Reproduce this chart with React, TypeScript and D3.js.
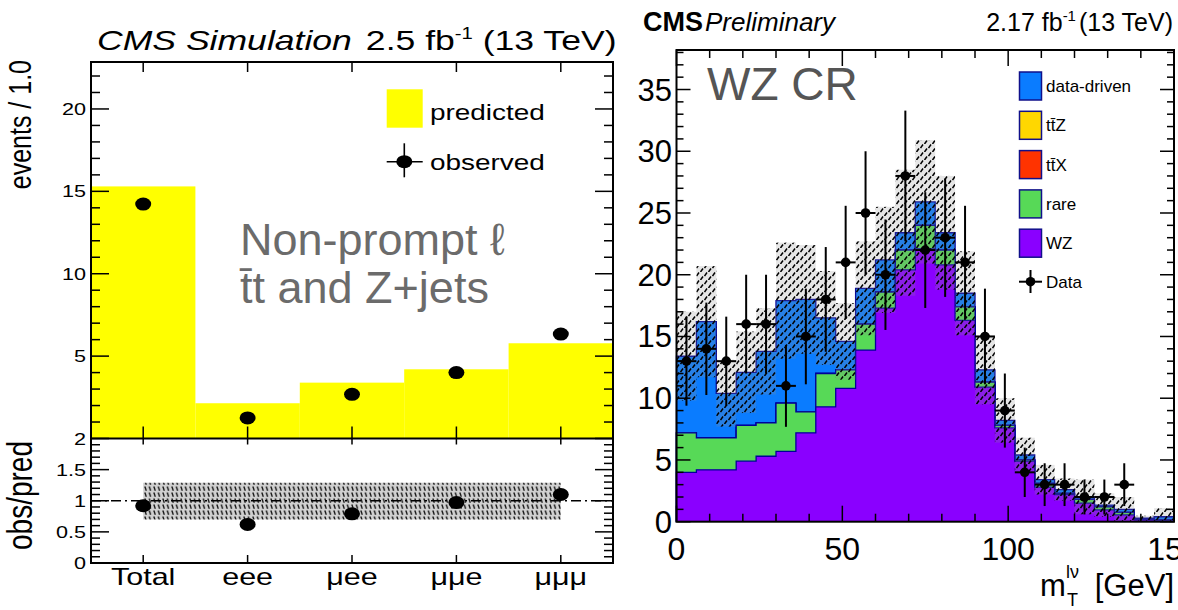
import React from 'react';
import * as d3 from 'd3';

// ---------- Left chart data ----------
const categories = ['Total', 'eee', 'μee', 'μμe', 'μμμ'];
const predicted = [15.3, 2.14, 3.39, 4.2, 5.78];
const observed = [14.23, 1.25, 2.68, 4.0, 6.34];
const ratioValues = [0.92, 0.62, 0.79, 0.97, 1.1];
const ratioBandLow = [0.7, 0.7, 0.7, 0.7, 0.7];
const ratioBandHigh = [1.29, 1.29, 1.29, 1.29, 1.29];
const leftYTickLabels = [5, 10, 15, 20];
const ratioTickLabels = [0, 0.5, 1, 1.5, 2];

// ---------- Right chart data ----------
const mtBinLow = [0, 6, 12, 18, 24, 30, 36, 42, 48, 54, 60, 66, 72, 78, 84, 90, 96, 102, 108, 114, 120, 126, 132, 138, 144];
const binWidth = 6;
const wzValues = [4.0, 4.2, 4.2, 4.9, 5.3, 5.7, 7.2, 9.3, 10.8, 13.9, 17.3, 20.4, 22.1, 20.8, 16.3, 10.9, 7.6, 4.9, 2.8, 2.2, 1.5, 0.95, 0.55, 0.15, 0.12];
const rareValues = [3.2, 2.6, 2.6, 2.9, 2.7, 3.9, 1.7, 2.7, 1.5, 2.1, 1.3, 1.6, 1.9, 1.2, 1.1, 0.4, 0.2, 0.1, 0.3, 0.1, 0.3, 0.25, 0.2, 0.05, 0.03];
const ttxValues = [0, 0, 0, 0, 0, 0, 0, 0, 0, 0, 0, 0, 0, 0, 0, 0, 0, 0, 0, 0, 0, 0, 0, 0, 0];
const ttzValues = [0, 0, 0, 0, 0, 0, 0, 0, 0, 0, 0, 0, 0, 0, 0, 0, 0, 0, 0, 0, 0, 0, 0, 0, 0];
const dataDrivenValues = [6.2, 9.4, 3.6, 4.3, 5.8, 8.3, 9.1, 4.5, 2.3, 2.9, 2.6, 1.4, 1.9, 1.4, 1.1, 1.0, 0.4, 0.4, 0.3, 0.3, 0.2, 0.15, 0.25, 0.08, 0.25];
const totalUncertainty = [3.6, 4.5, 2.7, 3.3, 3.5, 4.7, 4.4, 3.8, 3.1, 3.8, 4.3, 5.1, 5.0, 4.6, 3.4, 2.8, 1.8, 1.4, 1.2, 0.9, 1.4, 0.95, 1.0, 0.2, 0.7];
const dataCounts = [13, 14, 13, 16, 16, 11, 15, 18, 21, 25, 20, 28, 22, 23, 21, 15, 9, 4, 3, 3, 2, 2, 3, 0, 0];
const rightYTickLabels = [0, 5, 10, 15, 20, 25, 30, 35];
const rightXTickLabels = [0, 50, 100, 150];
const legendLabels = ['data-driven', 'tt\u0304Z', 'tt\u0304X', 'rare', 'WZ'];
const legendColors = ['#0a7cff', '#ffd700', '#ff3300', '#57d957', '#8a00ff'];
const stackKeys = ['wz', 'rare', 'ttx', 'ttz', 'dd'];
const stackColors: Record<string, string> = { wz: '#8a00ff', rare: '#57d957', ttx: '#ff3300', ttz: '#ffd700', dd: '#0a7cff' };

const FONT = "'Liberation Sans', Arial, Helvetica, sans-serif";
const SX = 1.27; // horizontal stretch of left figure

function STxt(props: any) {
  const { x, y, sx = SX, anchor = 'start', size, children, ...rest } = props;
  return (
    <g transform={`translate(${x},${y}) scale(${sx},1)`}>
      <text x={0} y={0} textAnchor={anchor} fontSize={size} fontFamily={FONT} {...rest}>{children}</text>
    </g>
  );
}

function LeftChart() {
  const x0 = 91, x1 = 613, yTop = 62, yMid = 438.5, yBot = 563;
  const xL = d3.scaleBand<string>().domain(categories).range([x0, x1]).padding(0);
  const bw = xL.bandwidth();
  const cx = (c: string) => (xL(c) as number) + bw / 2;
  const yL = d3.scaleLinear().domain([0, 22.85]).range([yMid, yTop]);
  const yR = d3.scaleLinear().domain([0, 2]).range([yBot, yMid]);

  const bandArea = d3.area<number>()
    .x((_, i) => cx(categories[i]))
    .y0((_, i) => yR(ratioBandLow[i]))
    .y1((_, i) => yR(ratioBandHigh[i]));

  const topMinor = d3.range(1, 23);
  const ratioMinor = d3.range(0, 21).map((v) => v / 10);

  return (
    <g>
      {/* title */}
      <g transform={`translate(97,50) scale(${SX},1)`}>
        <text x={0} y={0} fontFamily={FONT} fontSize={28}>
          <tspan fontStyle="italic">CMS Simulation</tspan>
          <tspan dx={11}>2.5 fb</tspan>
          <tspan dy={-11} fontSize={16}>-1</tspan>
          <tspan dy={11}> (13 TeV)</tspan>
        </text>
      </g>

      {/* predicted bars */}
      {categories.map((c, i) => (
        <rect key={c} x={xL(c)} y={yL(predicted[i])} width={bw} height={yL(0) - yL(predicted[i])} fill="#ffff00" />
      ))}
      {/* observed */}
      {categories.map((c, i) => (
        <ellipse key={c} cx={cx(c)} cy={yL(observed[i])} rx={8} ry={6.5} fill="#000" />
      ))}

      {/* ratio band */}
      <path d={bandArea(ratioValues) || ''} fill="url(#hatchL)" />
      <line x1={x0} x2={x1} y1={yR(1)} y2={yR(1)} stroke="#000" strokeWidth={1.3} strokeDasharray="10,4,2,4" />
      {categories.map((c, i) => (
        <ellipse key={c} cx={cx(c)} cy={yR(ratioValues[i])} rx={8} ry={6.5} fill="#000" />
      ))}

      {/* frame */}
      <rect x={x0} y={yTop} width={x1 - x0} height={yBot - yTop} fill="none" stroke="#000" strokeWidth={2} />
      <line x1={x0} x2={x1} y1={yMid} y2={yMid} stroke="#000" strokeWidth={2} />

      {/* ticks top panel */}
      {topMinor.map((v) => {
        const len = v % 5 === 0 ? 18 : 9;
        return (
          <g key={v}>
            <line x1={x0} x2={x0 + len} y1={yL(v)} y2={yL(v)} stroke="#000" strokeWidth={1.5} />
            <line x1={x1} x2={x1 - len} y1={yL(v)} y2={yL(v)} stroke="#000" strokeWidth={1.5} />
          </g>
        );
      })}
      {ratioMinor.map((v, i) => {
        const len = i % 5 === 0 ? 18 : 9;
        return (
          <g key={i}>
            <line x1={x0} x2={x0 + len} y1={yR(v)} y2={yR(v)} stroke="#000" strokeWidth={1.5} />
            <line x1={x1} x2={x1 - len} y1={yR(v)} y2={yR(v)} stroke="#000" strokeWidth={1.5} />
          </g>
        );
      })}
      {categories.map((c) => (
        <g key={c}>
          <line x1={cx(c)} x2={cx(c)} y1={yTop} y2={yTop + 10} stroke="#000" strokeWidth={1.5} />
          <line x1={cx(c)} x2={cx(c)} y1={yMid} y2={yMid - 12} stroke="#000" strokeWidth={1.5} />
          <line x1={cx(c)} x2={cx(c)} y1={yMid} y2={yMid + 6} stroke="#000" strokeWidth={1.5} />
          <line x1={cx(c)} x2={cx(c)} y1={yBot} y2={yBot - 8} stroke="#000" strokeWidth={1.5} />
        </g>
      ))}

      {/* tick labels */}
      {leftYTickLabels.map((v) => (
        <STxt key={v} x={86} y={yL(v) + 6} anchor="end" size={17}>{v}</STxt>
      ))}
      {ratioTickLabels.map((v) => (
        <STxt key={v} x={86} y={yR(v) + 6} anchor="end" size={17}>{String(v)}</STxt>
      ))}
      {categories.map((c) => (
        <STxt key={c} x={cx(c)} y={585} anchor="middle" size={24}>{c}</STxt>
      ))}

      {/* axis titles */}
      <text transform={`translate(31,60) rotate(-90) scale(1,${SX})`} textAnchor="end" fontFamily={FONT} fontSize={25}>events / 1.0</text>
      <text transform={`translate(32,441) rotate(-90) scale(1,${SX})`} textAnchor="end" fontFamily={FONT} fontSize={28}>obs/pred</text>

      {/* legend */}
      <rect x={386.7} y={89.3} width={36} height={38.4} fill="#ffff00" />
      <STxt x={430} y={120} size={22}>predicted</STxt>
      <line x1={386.7} x2={422.7} y1={161.7} y2={161.7} stroke="#000" strokeWidth={1.6} />
      <line x1={404.3} x2={404.3} y1={143.3} y2={177.3} stroke="#000" strokeWidth={1.6} />
      <ellipse cx={404.3} cy={161.7} rx={8} ry={6.5} fill="#000" />
      <STxt x={430} y={170} size={22}>observed</STxt>

      {/* annotation */}
      <text x={240} y={255} fontFamily={FONT} fontSize={45} fill="#6b6b6b">Non-prompt ℓ</text>
      <text x={240} y={303} fontFamily={FONT} fontSize={45} fill="#6b6b6b">{'t\u0304t and Z+jets'}</text>
    </g>
  );
}

function RightChart() {
  const x0 = 676.5, x1 = 1174, yTop = 50, yBot = 521.7;
  const x = d3.scaleLinear().domain([0, 150]).range([x0, x1]);
  const y = d3.scaleLinear().domain([0, 38.2]).range([yBot, yTop]);

  const rows = mtBinLow.map((lo, i) => ({
    lo,
    wz: wzValues[i],
    rare: rareValues[i],
    ttx: ttxValues[i],
    ttz: ttzValues[i],
    dd: dataDrivenValues[i],
  }));
  const series = d3.stack<any>().keys(stackKeys)(rows);

  const stepPts = (vals: number[]) => {
    const pts: [number, number][] = [];
    mtBinLow.forEach((lo, i) => {
      pts.push([lo, vals[i]]);
      pts.push([lo + binWidth, vals[i]]);
    });
    return pts;
  };
  const area = d3.area<[number, number]>().x((d) => x(d[0])).y0(y(0)).y1((d) => y(d[1]));
  const line = d3.line<[number, number]>().x((d) => x(d[0])).y((d) => y(d[1]));

  const totals = series[series.length - 1].map((d) => d[1]);
  const yMinor = d3.range(0, 39);
  const xMinor = d3.range(0, 151, 10);

  return (
    <g>
      {/* title */}
      <text x={643} y={31} fontFamily={FONT} fontSize={27}>
        <tspan fontWeight="bold">CMS</tspan>
        <tspan dx={2} fontStyle="italic" fontSize={26}>Preliminary</tspan>
      </text>
      <text x={1173} y={31} fontFamily={FONT} fontSize={25} textAnchor="end">
        <tspan>2.17 fb</tspan>
        <tspan dy={-10} fontSize={15}>-1</tspan>
        <tspan dy={10} dx={3}>(13 TeV)</tspan>
      </text>

      {/* stacked histograms (cumulative, drawn top-down) */}
      {series.slice().reverse().map((s) => {
        const pts = stepPts(s.map((d) => d[1]));
        const first = pts[0];
        const last = pts[pts.length - 1];
        const outline: [number, number][] = [[first[0], 0], ...pts, [last[0], 0]];
        return (
          <g key={s.key}>
            <path d={area(pts) || ''} fill={stackColors[s.key]} />
            <path d={line(outline) || ''} fill="none" stroke="#000099" strokeWidth={1.3} />
          </g>
        );
      })}

      {/* uncertainty band */}
      {mtBinLow.map((lo, i) => (
        <rect key={lo} x={x(lo)} width={x(lo + binWidth) - x(lo)}
          y={y(totals[i] + totalUncertainty[i])}
          height={y(Math.max(0, totals[i] - totalUncertainty[i])) - y(totals[i] + totalUncertainty[i])}
          fill="url(#hatchR)" />
      ))}

      {/* data */}
      {mtBinLow.map((lo, i) => {
        const n = dataCounts[i];
        if (n <= 0) return null;
        const e = Math.sqrt(n);
        const c = x(lo + binWidth / 2);
        return (
          <g key={lo}>
            <line x1={c} x2={c} y1={y(n - e)} y2={y(n + e)} stroke="#000" strokeWidth={2} />
            <line x1={x(lo)} x2={x(lo + binWidth)} y1={y(n)} y2={y(n)} stroke="#000" strokeWidth={2} />
            <circle cx={c} cy={y(n)} r={4.8} fill="#000" />
          </g>
        );
      })}

      {/* frame */}
      <rect x={x0} y={yTop} width={x1 - x0} height={yBot - yTop} fill="none" stroke="#000" strokeWidth={2} />
      {yMinor.map((v) => {
        const len = v % 5 === 0 ? 14 : 7;
        return (
          <g key={v}>
            <line x1={x0} x2={x0 + len} y1={y(v)} y2={y(v)} stroke="#000" strokeWidth={1.5} />
            <line x1={x1} x2={x1 - len} y1={y(v)} y2={y(v)} stroke="#000" strokeWidth={1.5} />
          </g>
        );
      })}
      {xMinor.map((v) => {
        const len = v % 50 === 0 ? 16 : 8;
        return (
          <g key={v}>
            <line x1={x(v)} x2={x(v)} y1={yBot} y2={yBot - len} stroke="#000" strokeWidth={1.5} />
            <line x1={x(v)} x2={x(v)} y1={yTop} y2={yTop + len} stroke="#000" strokeWidth={1.5} />
          </g>
        );
      })}
      {rightYTickLabels.map((v) => (
        <text key={v} x={672} y={y(v) + 11} textAnchor="end" fontFamily={FONT} fontSize={31}>{v}</text>
      ))}
      {rightXTickLabels.map((v) => (
        <text key={v} x={x(v)} y={560} textAnchor="middle" fontFamily={FONT} fontSize={32}>{v}</text>
      ))}

      {/* axis title */}
      <text x={1040} y={596} fontFamily={FONT} fontSize={31}>m</text>
      <text x={1066} y={578} fontFamily={FONT} fontSize={18}>lν</text>
      <text x={1067} y={606} fontFamily={FONT} fontSize={18}>T</text>
      <text x={1174} y={596} fontFamily={FONT} fontSize={31} textAnchor="end">[GeV]</text>

      {/* annotation */}
      <text x={707} y={100} fontFamily={FONT} fontSize={46} fill="#555">WZ CR</text>

      {/* legend */}
      {legendLabels.map((lab, i) => {
        const yy = 72 + 39.3 * i;
        return (
          <g key={lab}>
            <rect x={1019.5} y={yy} width={22} height={28} fill={legendColors[i]} stroke="#10108a" strokeWidth={1.5} />
            <text x={1046} y={yy + 20} fontFamily={FONT} fontSize={17}>{lab}</text>
          </g>
        );
      })}
      <g>
        <line x1={1019} x2={1042} y1={281.7} y2={281.7} stroke="#000" strokeWidth={2} />
        <line x1={1030.5} x2={1030.5} y1={270} y2={293} stroke="#000" strokeWidth={2} />
        <circle cx={1030.5} cy={281.7} r={4.8} fill="#000" />
        <text x={1046} y={288} fontFamily={FONT} fontSize={17}>Data</text>
      </g>
    </g>
  );
}

export default function App() {
  return (
    <svg width={1178} height={610} style={{ position: 'absolute', left: 0, top: 0, background: '#fff' }}>
      <defs>
        <pattern id="hatchR" patternUnits="userSpaceOnUse" width={8} height={8}>
          <rect width={8} height={8} fill="rgba(140,140,140,0.22)" />
          <path d="M0.5,4 L3,0.5 M4.5,8 L7,4.5" stroke="#000" strokeWidth={1.5} />
        </pattern>
        <pattern id="hatchL" patternUnits="userSpaceOnUse" width={4.5} height={6}>
          <rect width={4.5} height={6} fill="#d0d0d0" />
          <path d="M0.8,0.5 L2.2,4.8" stroke="#000" strokeWidth={1.2} />
        </pattern>
      </defs>
      <rect width={1178} height={610} fill="#fff" />
      <LeftChart />
      <RightChart />
    </svg>
  );
}
